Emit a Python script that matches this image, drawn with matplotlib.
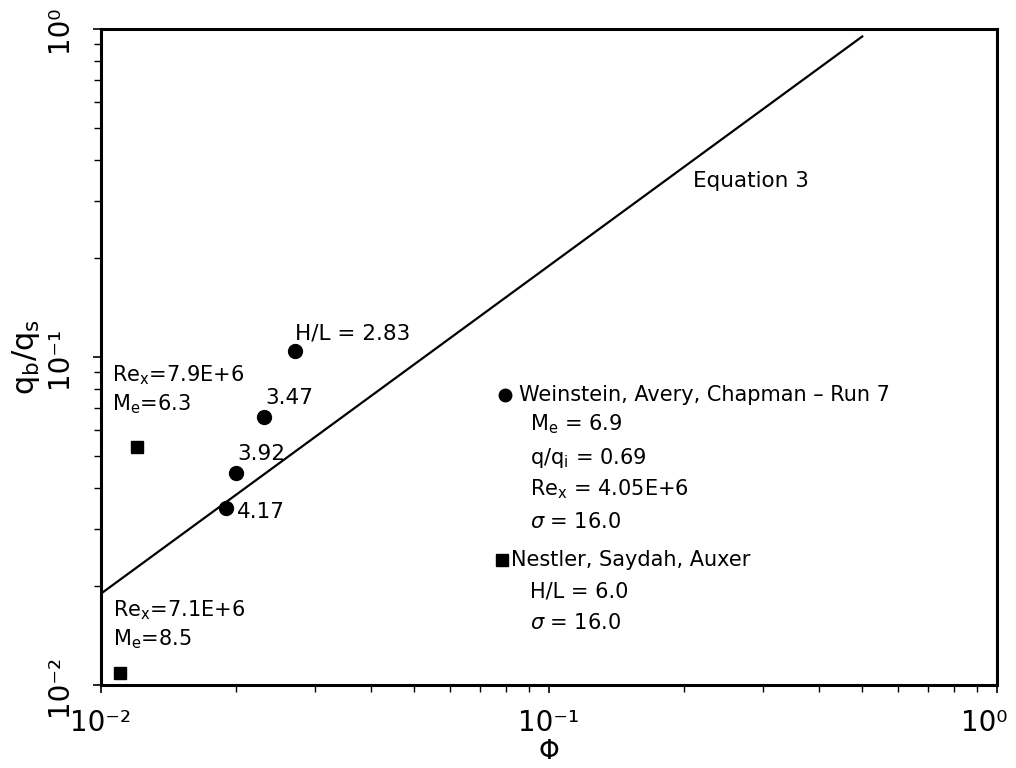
import matplotlib
matplotlib.use('Agg')
import matplotlib.pyplot as plt
import matplotlib.transforms as mtransforms
from matplotlib.ticker import NullFormatter, LogLocator, FuncFormatter
import numpy as np

plt.rcParams['font.family'] = ['DejaVu Sans']
plt.rcParams['mathtext.fontset'] = 'dejavusans'

# Weinstein, Avery, Chapman - Run 7 (circles)
wac_phi = [0.0271, 0.0231, 0.0200, 0.0190]
wac_q = [0.1045, 0.0658, 0.0444, 0.0346]
wac_hl = ['H/L = 2.83', '3.47', '3.92', '4.17']

# Nestler, Saydah, Auxer (squares)
nsa_phi = [0.01205, 0.0110]
nsa_q = [0.0533, 0.0109]
nsa_notes = [r'Re$_\mathregular{x}$=7.9E+6' + '\n' + r'M$_\mathregular{e}$=6.3',
             r'Re$_\mathregular{x}$=7.1E+6' + '\n' + r'M$_\mathregular{e}$=8.5']

# Equation 3
eq_phi = [0.01, 0.5]
eq_q = [0.019, 0.95]

SUP = str.maketrans('-0123456789', '\u207b\u2070\u00b9\u00b2\u00b3\u2074\u2075\u2076\u2077\u2078\u2079')


def dec_fmt(v, pos):
    return '10' + str(int(round(np.log10(v)))).translate(SUP)


fig = plt.figure(figsize=(10.16, 7.68), dpi=100)
ax = fig.add_axes([0.0994, 0.108, 0.882, 0.854])

ax.set_xscale('log')
ax.set_yscale('log')
ax.set_xlim(1e-2, 1)
ax.set_ylim(1e-2, 1)

ax.plot(eq_phi, eq_q, color='black', lw=1.6)
ax.plot(wac_phi, wac_q, 'o', color='black', ms=10)
ax.plot(nsa_phi, nsa_q, 's', color='black', ms=9)

# point labels (offsets in points)
lbl_off = [(0, 5), (1, 6), (1, 6), (8, -3)]
for x, y, t, off in zip(wac_phi, wac_q, wac_hl, lbl_off):
    ax.annotate(t, (x, y), xytext=off, textcoords='offset points',
                fontsize=15.5, ha='left', va='bottom' if off[1] > 0 else 'center')

ax.annotate(nsa_notes[0], (nsa_phi[0], nsa_q[0]), xytext=(-18, 22),
            textcoords='offset points', fontsize=15, ha='left', va='bottom',
            linespacing=1.3)
ax.annotate(nsa_notes[1], (nsa_phi[1], nsa_q[1]), xytext=(-5, 16),
            textcoords='offset points', fontsize=15, ha='left', va='bottom',
            linespacing=1.3)

ax.text(0.661, 0.768, 'Equation 3', transform=ax.transAxes, fontsize=15.5,
        ha='left', va='center')

# legend block drawn by hand
ax.plot([0.4505], [0.4421], 'o', color='black', ms=9, transform=ax.transAxes,
        clip_on=False)
ax.plot([0.4475], [0.1905], 's', color='black', ms=8, transform=ax.transAxes,
        clip_on=False)
leg_lines = [
    (0.466, 0.4421, 'Weinstein, Avery, Chapman \u2013 Run 7'),
    (0.479, 0.3970, r'M$_\mathregular{e}$ = 6.9'),
    (0.479, 0.3460, r'q/q$_\mathregular{i}$ = 0.69'),
    (0.479, 0.2980, r'Re$_\mathregular{x}$ = 4.05E+6'),
    (0.479, 0.2480, r'$\sigma$ = 16.0'),
    (0.458, 0.1905, 'Nestler, Saydah, Auxer'),
    (0.479, 0.1430, 'H/L = 6.0'),
    (0.479, 0.0940, r'$\sigma$ = 16.0'),
]
for x, y, t in leg_lines:
    ax.text(x, y, t, transform=ax.transAxes, fontsize=15, ha='left', va='center')

for s in ax.spines.values():
    s.set_linewidth(2.2)

ax.xaxis.set_major_formatter(FuncFormatter(dec_fmt))
ax.yaxis.set_major_formatter(FuncFormatter(dec_fmt))
ax.xaxis.set_minor_locator(LogLocator(base=10, subs=range(2, 10)))
ax.yaxis.set_minor_locator(LogLocator(base=10, subs=range(2, 10)))
ax.xaxis.set_minor_formatter(NullFormatter())
ax.yaxis.set_minor_formatter(NullFormatter())
ax.tick_params(which='major', direction='out', length=6, width=1.2,
               labelsize=20)
ax.tick_params(axis='x', which='major', pad=11)
ax.tick_params(axis='y', which='major', pad=14)
ax.tick_params(which='minor', direction='out', length=5, width=1.0)
ax.tick_params(axis='y', labelrotation=90)
for lab in ax.get_yticklabels():
    lab.set_va('center')

ax.set_xlabel(r'$\Phi$', fontsize=19, labelpad=2)
ax.set_ylabel(r'q$_\mathregular{b}$/q$_\mathregular{s}$', fontsize=22, labelpad=2)

# keep the 10^0 label on the x axis inside the canvas
fig.canvas.draw()
shift = mtransforms.ScaledTranslation(-9 / 72, 0, fig.dpi_scale_trans)
for tick in ax.xaxis.get_major_ticks():
    if np.isclose(tick.get_loc(), 1.0):
        tick.label1.set_transform(tick.label1.get_transform() + shift)

fig.savefig('out.png', dpi=100, facecolor='white')
